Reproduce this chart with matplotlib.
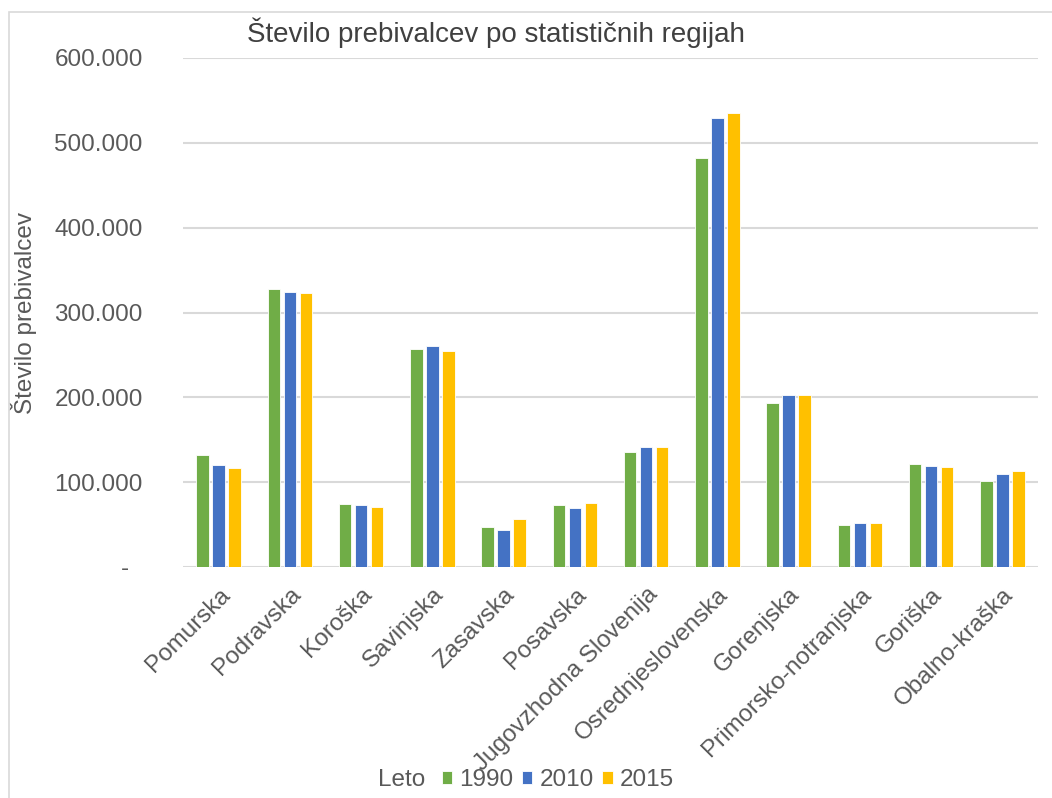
import numpy as np
import matplotlib

matplotlib.use("Agg")
import matplotlib.pyplot as plt
from matplotlib.patches import Rectangle
from matplotlib.ticker import FuncFormatter
from matplotlib.transforms import ScaledTranslation

plt.rcParams["font.family"] = ["Liberation Sans", "DejaVu Sans"]

regions = ["Pomurska", "Podravska", "Koroška", "Savinjska", "Zasavska", "Posavska",
           "Jugovzhodna Slovenija", "Osrednjeslovenska", "Gorenjska",
           "Primorsko-notranjska", "Goriška", "Obalno-kraška"]
years = ["1990", "2010", "2015"]
pop_1990 = [132000, 328000, 74000, 257000, 47000, 73000, 135000, 482000, 193000, 50000, 121000, 101000]
pop_2010 = [120000, 324000, 73000, 260000, 44000, 70000, 142000, 529000, 203000, 52000, 119000, 110000]
pop_2015 = [117000, 323000, 71000, 255000, 57000, 75000, 142000, 535000, 203000, 52000, 118000, 113000]
colors = ["#70AD47", "#4472C4", "#FFC000"]
TEXT = "#595959"

fig = plt.figure(figsize=(10.52, 7.98), dpi=100)
# chart-area border (light gray, runs off right/bottom)
fig.patches.append(Rectangle((9 / 1052, -0.1), 1.2, 1 - 12 / 798 + 0.1,
                             transform=fig.transFigure, fill=False,
                             edgecolor="#d9d9d9", linewidth=1.2))

ax = fig.add_axes([183 / 1052, 1 - 567 / 798, (1038 - 183) / 1052, (567 - 58) / 798])

x = np.arange(len(regions))
step, width = 0.225, 0.175
for i, (vals, yr) in enumerate(zip([pop_1990, pop_2010, pop_2015], years)):
    ax.bar(x + (i - 1) * step, vals, width=width, color=colors[i],
           edgecolor="white", linewidth=0.6, label=yr, zorder=3)

ax.set_xlim(-0.5, len(regions) - 0.5)
ax.set_ylim(0, 600000)
ax.set_yticks(np.arange(0, 600001, 100000))
ax.yaxis.set_major_formatter(FuncFormatter(
    lambda v, p: "-" if v == 0 else f"{int(v):,}".replace(",", ".")))
ax.grid(axis="y", color="#d9d9d9", linewidth=1.5, zorder=0)
for s in ["top", "right", "left", "bottom"]:
    ax.spines[s].set_visible(False)
ax.tick_params(axis="both", length=0, colors=TEXT, labelsize=17.5)
ax.tick_params(axis="y", pad=29)

ax.set_xticks(x)
ax.set_xticklabels(regions, rotation=45, ha="right", rotation_mode="anchor")
ax.tick_params(axis="x", pad=12)

# shift the "-" zero label like excel's accounting format
zero_lbl = ax.get_yticklabels()[0]
zero_lbl.set_transform(zero_lbl.get_transform() + ScaledTranslation(-0.14, 0, fig.dpi_scale_trans))

ax.set_ylabel("Število prebivalcev", color=TEXT, fontsize=17.5)
ax.yaxis.set_label_coords(-0.171, 0.5)

fig.text(496 / 1052, 1 - 33 / 798, "Število prebivalcev po statističnih regijah",
         ha="center", va="center", fontsize=20, color="#404040")

fig.text(378 / 1052, 1 - 780 / 798, "Leto", ha="left", va="center", fontsize=17.5, color=TEXT)
fig.legend(loc="center", bbox_to_anchor=(558 / 1052, 1 - 780 / 798), ncol=3, frameon=False,
           fontsize=17.5, labelcolor=TEXT, handlelength=0.42, handleheight=0.42,
           handletextpad=0.3, columnspacing=0.35, borderpad=0)

fig.savefig("out.png", dpi=100)
